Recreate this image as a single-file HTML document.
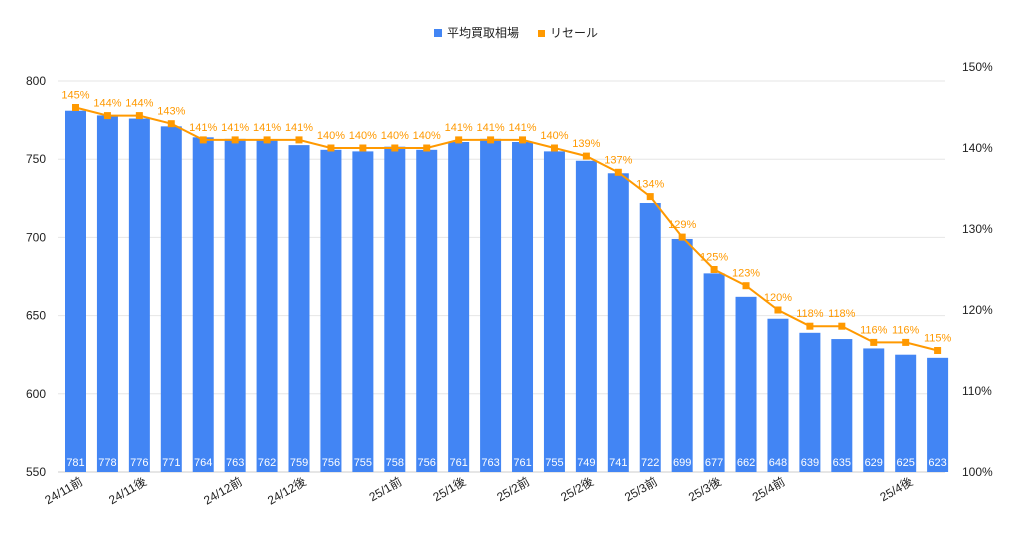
<!DOCTYPE html>
<html><head><meta charset="utf-8"><style>
body{margin:0;background:#fff}
svg{font-family:"Liberation Sans","Noto Sans CJK JP",sans-serif}
</style></head><body>
<svg width="1024" height="533" viewBox="0 0 1024 533">
<g>
<rect x="434" y="29" width="8" height="8" fill="#4285f4"/>
<text x="447" y="37" font-size="12" fill="#222">平均買取相場</text>
<rect x="538" y="30" width="7" height="7" fill="#ff9900"/>
<text x="550" y="37" font-size="12" fill="#222">リセール</text>
</g>
<g id="grid"></g><g id="bars"></g><g id="line"></g><g id="labels"></g>
</svg>
<script>
const categories=["24/11前","","24/11後","","","24/12前","","24/12後","","","25/1前","","25/1後","","25/2前","","25/2後","","25/3前","","25/3後","","25/4前","","","","25/4後",""];
const prices=[781,778,776,771,764,763,762,759,756,755,758,756,761,763,761,755,749,741,722,699,677,662,648,639,635,629,625,623];
const resale=[145,144,144,143,141,141,141,141,140,140,140,140,141,141,141,140,139,137,134,129,125,123,120,118,118,116,116,115];
const leftTicks=[550,600,650,700,750,800];
const rightTicks=[100,110,120,130,140,150];
const NS="http://www.w3.org/2000/svg";
function mk(tag,attrs,parent,text){const e=document.createElementNS(NS,tag);for(const k in attrs)e.setAttribute(k,attrs[k]);if(text!==undefined)e.textContent=text;parent.appendChild(e);return e;}
const yL=v=>472-(v-550)*(391/250);
const yR=v=>472-(v-100)*8.1;
const xC=i=>75.5+i*31.93;
const grid=document.getElementById('grid');
leftTicks.forEach(t=>{
 const l=mk('line',{x1:58,x2:945,y1:yL(t),y2:yL(t),stroke:t===550?'#ccc':'#e6e6e6','stroke-width':1},grid);
 
 
 const tx=mk('text',{x:46,y:yL(t)+4,'font-size':12,'text-anchor':'end',fill:'#222'},grid,String(t));
 
 
});
rightTicks.forEach(t=>{
 const tx=mk('text',{x:962,y:yR(t)+4,'font-size':12,fill:'#222'},grid,t+'%');
 
 
});
const bars=document.getElementById('bars');
prices.forEach((v,i)=>{
 const r=mk('rect',{x:xC(i)-10.5,y:yL(v),width:21,height:472-yL(v),fill:'#4285f4'},bars);
 
 
 const t=mk('text',{x:xC(i),y:466,'font-size':11,'text-anchor':'middle',fill:'#fff'},bars,String(v));
 
 
});
const lg=document.getElementById('line');
const p=mk('polyline',{points:resale.map((v,i)=>xC(i)+','+yR(v)).join(' '),fill:'none',stroke:'#ff9900','stroke-width':2},lg);


resale.forEach((v,i)=>{
 const m=mk('rect',{x:xC(i)-3.5,y:yR(v)-3.5,width:7,height:7,fill:'#ff9900'},lg);
 
 
 const t=mk('text',{x:xC(i),y:yR(v)-9,'font-size':11,'text-anchor':'middle',fill:'#ff9900'},lg,v+'%');
 
 
});
const lab=document.getElementById('labels');
categories.forEach((c,i)=>{
 if(!c)return;
 const x=xC(i)+8,y=484;
 const t=mk('text',{x:x,y:y,'font-size':12,'text-anchor':'end',fill:'#222',transform:'rotate(-30 '+x+' '+y+')'},lab,c);
 
 
});
</script>
</body></html>
